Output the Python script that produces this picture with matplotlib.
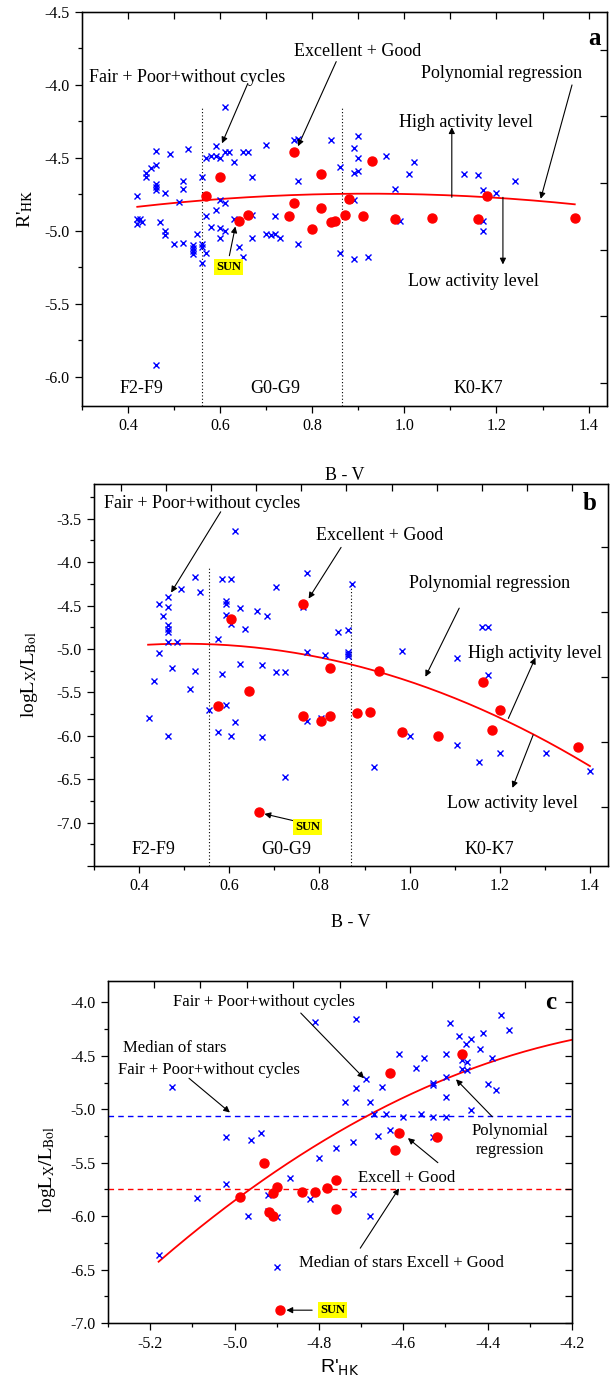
import numpy as np
import matplotlib.pyplot as plt
from matplotlib.ticker import MultipleLocator, FuncFormatter

plt.rcParams['font.family'] = ['Liberation Serif', 'DejaVu Serif']
plt.rcParams['mathtext.fontset'] = 'stix'
plt.rcParams['axes.unicode_minus'] = False

# ---- panel a: B-V vs R'HK ----
bv_a_fair = [0.61, 0.46, 0.49, 0.53, 0.42, 0.44, 0.44, 0.45, 0.46, 0.46, 0.46, 0.46,
             0.48, 0.52, 0.52, 0.51, 0.42, 0.425, 0.47, 0.56, 0.57, 0.58, 0.59, 0.60,
             0.59, 0.61, 0.62, 0.63, 0.65, 0.66, 0.70, 0.67, 0.60, 0.61, 0.59, 0.57,
             0.63, 0.67, 0.72, 0.76, 0.77, 0.77, 0.84, 0.86, 0.89, 0.90, 0.90, 0.89,
             0.90, 0.89, 0.96, 0.98, 1.01, 1.02, 1.13, 1.16, 1.17, 1.20, 1.24, 0.99,
             1.17, 0.42, 0.43, 0.48, 0.48, 0.50, 0.52, 0.54, 0.54, 0.54, 0.54, 0.55,
             0.56, 0.56, 0.56, 0.57, 0.58, 0.60, 0.60, 0.61, 0.64, 0.65, 0.67, 0.70,
             0.71, 0.72, 0.73, 0.77, 0.86, 0.89, 0.92, 1.17, 0.46]
rhk_a_fair = [-4.15, -4.45, -4.47, -4.44, -4.76, -4.60, -4.63, -4.57, -4.55, -4.68, -4.70, -4.72,
              -4.74, -4.66, -4.71, -4.80, -4.92, -4.92, -4.94, -4.63, -4.50, -4.49, -4.49, -4.50,
              -4.42, -4.46, -4.46, -4.53, -4.46, -4.46, -4.41, -4.63, -4.79, -4.81, -4.86, -4.90,
              -4.92, -4.89, -4.90, -4.38, -4.37, -4.66, -4.38, -4.56, -4.43, -4.35, -4.50, -4.60,
              -4.59, -4.79, -4.49, -4.71, -4.61, -4.53, -4.61, -4.62, -4.72, -4.74, -4.66, -4.93,
              -4.93, -4.95, -4.94, -5.00, -5.03, -5.09, -5.08, -5.10, -5.12, -5.14, -5.16, -5.02,
              -5.09, -5.11, -5.22, -5.15, -4.97, -4.98, -5.05, -5.00, -5.11, -5.18, -5.05, -5.02,
              -5.03, -5.02, -5.05, -5.09, -5.15, -5.19, -5.18, -5.00, -5.92]
bv_a_good = [0.60, 0.57, 0.76, 0.82, 0.93, 0.76, 0.82, 0.88, 1.18, 0.64, 0.66,
             0.75, 0.87, 0.91, 0.84, 0.85, 0.80, 0.98, 1.06, 1.16, 1.37]
rhk_a_good = [-4.63, -4.76, -4.46, -4.61, -4.52, -4.81, -4.84, -4.78, -4.76, -4.93, -4.89,
              -4.90, -4.89, -4.90, -4.94, -4.935, -4.99, -4.92, -4.91, -4.92, -4.91]
# quadratic regression: y = c2*(x-x0)^2 + c1*(x-x0) + c0
fit_a_center = 0.92
fit_a_coef = [-0.36, 0.0, -4.745]
fit_a_span = (0.42, 1.37)
edges_a = [0.56, 0.865]
edges_a_top = [-4.15, -4.16]
ytick_a = [-6.0, -5.5, -5.0, -4.5, -4.0, -3.5]
ytick_a_labels = ['-6.0', '-5.5', '-5.0', '-4.5', '-4.0', '-4.5']

# ---- panel b: B-V vs log Lx/Lbol ----
bv_b_fair = [0.613, 0.444, 0.464, 0.464, 0.453, 0.464, 0.464, 0.464, 0.464, 0.485, 0.444,
             0.493, 0.523, 0.534, 0.583, 0.603, 0.593, 0.593, 0.593, 0.603, 0.624, 0.634,
             0.662, 0.683, 0.703, 0.773, 0.763, 0.575, 0.842, 0.863, 0.873, 0.773, 0.812,
             0.863, 0.863, 0.863, 0.983, 1.104, 1.161, 1.174, 0.474, 0.523, 0.434, 0.513,
             0.583, 0.624, 0.673, 0.703, 0.724, 0.554, 0.593, 0.423, 0.464, 0.575, 0.603,
             0.613, 0.673, 0.773, 0.804, 0.724, 0.922, 1.000, 1.104, 1.153, 1.200, 1.302,
             1.400, 1.174]
lx_b_fair = [-3.64, -4.48, -4.40, -4.52, -4.62, -4.72, -4.77, -4.80, -4.92, -4.92, -5.05,
             -4.31, -4.17, -4.34, -4.19, -4.19, -4.45, -4.48, -4.61, -4.71, -4.53, -4.77,
             -4.56, -4.62, -4.29, -4.12, -4.52, -4.89, -4.81, -4.78, -4.25, -5.04, -5.07,
             -5.04, -5.06, -5.08, -5.02, -5.10, -4.75, -4.75, -5.22, -5.25, -5.37, -5.46,
             -5.29, -5.17, -5.19, -5.26, -5.26, -5.70, -5.64, -5.80, -6.00, -5.96, -6.00,
             -5.84, -6.01, -5.83, -5.79, -6.47, -6.36, -6.00, -6.11, -6.30, -6.20, -6.20,
             -6.41, -5.30]
bv_b_good = [0.603, 0.763, 0.824, 0.932, 0.644, 0.575, 0.763, 0.804, 0.824, 0.883,
             0.913, 0.983, 1.063, 1.163, 1.200, 1.183, 1.374, 0.665]
lx_b_good = [-4.65, -4.48, -5.22, -5.25, -5.49, -5.66, -5.77, -5.83, -5.77, -5.74,
             -5.73, -5.96, -6.00, -5.38, -5.70, -5.93, -6.13, -6.88]
fit_b_center = 0.50
fit_b_coef = [-1.74, 0.0, -4.94]
fit_b_span = (0.42, 1.40)
edges_b = [0.556, 0.871]
edges_b_top = [-4.07, -4.24]

# ---- panel c: R'HK vs log Lx/Lbol ----
rhk_c_fair = [-5.148, -4.81, -4.711, -4.689, -4.711, -4.65, -4.739, -4.68, -4.609, -4.57,
              -4.551, -4.498, -4.529, -4.529, -4.498, -4.498, -4.49, -4.468, -4.451, -4.44,
              -4.46, -4.45, -4.46, -4.45, -4.418, -4.41, -4.369, -4.35, -4.39, -4.40,
              -4.38, -4.44, -4.67, -4.64, -4.60, -4.559, -4.529, -4.498, -5.02, -4.96,
              -4.938, -4.631, -4.66, -4.529, -4.72, -4.76, -4.80, -4.868, -5.02, -5.089,
              -4.92, -4.82, -4.72, -4.92, -4.968, -4.90, -4.68, -5.18, -4.90]
lx_c_fair = [-4.79, -4.18, -4.16, -4.72, -4.80, -4.79, -4.93, -4.93, -4.48, -4.61,
             -4.52, -4.48, -4.75, -4.77, -4.70, -4.89, -4.19, -4.31, -4.39, -4.34,
             -4.54, -4.56, -4.62, -4.63, -4.44, -4.29, -4.12, -4.26, -4.52, -4.76,
             -4.82, -5.01, -5.04, -5.04, -5.07, -5.04, -5.07, -5.07, -5.26, -5.29,
             -5.22, -5.19, -5.25, -5.26, -5.31, -5.36, -5.46, -5.64, -5.70, -5.83,
             -5.80, -5.84, -5.79, -5.95, -6.00, -6.01, -6.00, -6.36, -6.48]
rhk_c_good = [-4.631, -4.46, -4.609, -4.52, -4.62, -4.93, -4.987, -4.90, -4.91, -4.84,
              -4.81, -4.78, -4.76, -4.76, -4.918, -4.91, -4.893]
lx_c_good = [-4.66, -4.48, -5.22, -5.26, -5.38, -5.50, -5.82, -5.73, -5.78, -5.77,
             -5.77, -5.74, -5.66, -5.93, -5.96, -6.00, -6.88]
fit_c_center = -4.67
fit_c_coef = [-1.318, 2.066, -5.03]
fit_c_span = (-5.18, -4.2)
median_fair_c = -5.06
median_good_c = -5.75

BLUE = '#0000ff'
RED = '#ff0000'
ANN = 13
ARROW = dict(arrowstyle='-|>', color='k', lw=0.8, mutation_scale=9, shrinkA=0, shrinkB=0)
one_decimal = FuncFormatter(lambda v, pos: '%.1f' % v)


def style_axes(ax, xlim, ylim, xmaj, xmin, ymaj, ymin):
    ax.set_xlim(xlim)
    ax.set_ylim(ylim)
    ax.xaxis.set_major_locator(MultipleLocator(xmaj))
    ax.xaxis.set_minor_locator(MultipleLocator(xmin))
    ax.yaxis.set_major_locator(MultipleLocator(ymaj))
    ax.yaxis.set_minor_locator(MultipleLocator(ymin))
    ax.xaxis.set_major_formatter(one_decimal)
    ax.yaxis.set_major_formatter(one_decimal)
    ax.tick_params(which='both', direction='out', top=False, right=False,
                   labelsize=11.5, width=0.9)
    ax.tick_params(which='major', length=5, pad=4)
    ax.tick_params(which='minor', length=3)
    for s in ax.spines.values():
        s.set_linewidth(1.0)


def frame_ticks(ax, top, right):
    # the top and right frame carry their own unlabelled tick rows
    tx = ax.twiny()
    tx.set_xlim(0, 1)
    tx.set_xticks(top)
    tx.tick_params(direction='in', length=5, width=0.9, labeltop=False)
    ty = ax.twinx()
    ty.set_ylim(0, 1)
    ty.set_yticks(right)
    ty.tick_params(direction='in', length=5, width=0.9, labelright=False)


def draw_points(ax, xf, yf, xg, yg):
    ax.plot(xf, yf, 'x', color=BLUE, ms=5, mew=1.0, zorder=3)
    ax.plot(xg, yg, 'o', color=RED, ms=6.5, mec=RED, zorder=4)


def draw_fit(ax, center, coef, span):
    xs = np.linspace(span[0], span[1], 200)
    ax.plot(xs, np.polyval(coef, xs - center), color=RED, lw=1.3, zorder=2)


def sun_label(ax, x, y):
    ax.text(x, y, 'SUN', fontsize=9, fontweight='bold', ha='center', va='center',
            bbox=dict(boxstyle='square,pad=0.15', fc='#ffff00', ec='none'), zorder=6)


def note(ax, text, xy, head, tail, size=ANN, **kw):
    ax.text(xy[0], xy[1], text, fontsize=size, ha='center', va='center', zorder=6, **kw)
    if head is not None:
        ax.annotate('', xy=head, xytext=tail, arrowprops=ARROW, zorder=6)


W, H = 610, 1382
fig = plt.figure(figsize=(W / 100, H / 100), dpi=100)


def panel(left, top, right, bottom):
    return fig.add_axes([left / W, 1 - bottom / H, (right - left) / W, (bottom - top) / H])


# ---------------- panel a ----------------
ax = panel(82, 12, 607, 406)
style_axes(ax, (0.3, 1.44), (-6.2, -3.5), 0.2, 0.1, 0.5, 0.25)
ax.set_yticks(ytick_a)
ax.set_yticklabels(ytick_a_labels)
draw_fit(ax, fit_a_center, fit_a_coef, fit_a_span)
draw_points(ax, bv_a_fair, rhk_a_fair, bv_a_good, rhk_a_good)
ax.vlines(edges_a, -6.2, edges_a_top, colors='k', linestyles=(0, (1, 2)), lw=0.8)
ax.set_xlabel('B - V', fontsize=13)
ax.xaxis.set_label_coords(0.5, -0.155)
ax.set_ylabel(r"R'$_{\mathrm{HK}}$", fontsize=14)
ax.yaxis.set_label_coords(-0.09, 0.5)
note(ax, 'Fair + Poor+without cycles', (0.529, -3.947), (0.604, -4.40), (0.66, -3.99))
note(ax, 'Excellent + Good', (0.898, -3.774), (0.769, -4.42), (0.852, -3.84))
note(ax, 'Polynomial regression', (1.21, -3.92), (1.296, -4.78), (1.364, -4.0))
note(ax, 'High activity level', (1.133, -4.26), (1.103, -4.29), (1.103, -4.77))
note(ax, 'Low activity level', (1.151, -5.35), (1.214, -5.23), (1.214, -4.77))
ax.annotate('', xy=(0.633, -4.97), xytext=(0.62, -5.17), arrowprops=ARROW, zorder=6)
sun_label(ax, 0.618, -5.25)
for name, xc in zip(['F2-F9', 'G0-G9', 'K0-K7'], [0.43, 0.719, 1.161]):
    ax.text(xc, -6.08, name, fontsize=ANN, ha='center', va='center')
ax.text(1.412, -3.685, 'a', fontsize=18, fontweight='bold', ha='center', va='center')
frame_ticks(ax, (np.arange(0.4, 1.45, 0.1) - 0.3) / 1.14,
            0.904 - 0.169 * np.arange(6))

# ---------------- panel b ----------------
ax = panel(94, 484, 608, 866)
style_axes(ax, (0.3, 1.44), (-7.5, -3.1), 0.2, 0.1, 0.5, 0.25)
ax.set_yticks(np.arange(-7.5, -3.4, 0.5))
ax.set_yticklabels([''] + ['%.1f' % v for v in np.arange(-7.0, -3.4, 0.5)])
draw_fit(ax, fit_b_center, fit_b_coef, fit_b_span)
draw_points(ax, bv_b_fair, lx_b_fair, bv_b_good, lx_b_good)
ax.vlines(edges_b, -7.5, edges_b_top, colors='k', linestyles=(0, (1, 2)), lw=0.8)
ax.set_xlabel('B - V', fontsize=13)
ax.xaxis.set_label_coords(0.5, -0.125)
ax.set_ylabel(r'log$\mathrm{L_X/L_{Bol}}$', fontsize=14)
ax.yaxis.set_label_coords(-0.105, 0.5)
note(ax, 'Fair + Poor+without cycles', (0.539, -3.32), (0.471, -4.35), (0.581, -3.42))
note(ax, 'Excellent + Good', (0.934, -3.69), (0.776, -4.42), (0.848, -3.83))
note(ax, 'Polynomial regression', (1.178, -4.25), (1.035, -5.32), (1.11, -4.53))
note(ax, 'High activity level', (1.277, -5.05), (1.279, -5.10), (1.219, -5.80))
note(ax, 'Low activity level', (1.228, -6.78), (1.228, -6.60), (1.274, -5.99))
ax.annotate('', xy=(0.678, -6.90), xytext=(0.744, -6.98), arrowprops=ARROW, zorder=6)
sun_label(ax, 0.774, -7.05)
for name, xc in zip(['F2-F9', 'G0-G9', 'K0-K7'], [0.431, 0.726, 1.176]):
    ax.text(xc, -7.31, name, fontsize=ANN, ha='center', va='center')
ax.text(1.40, -3.33, 'b', fontsize=18, fontweight='bold', ha='center', va='center')
frame_ticks(ax, (np.arange(0.36, 1.4, 0.1) - 0.3) / 1.14,
            0.835 - 0.17 * np.arange(5))

# ---------------- panel c ----------------
ax = panel(108, 981, 572, 1323)
style_axes(ax, (-5.3, -4.2), (-7.0, -3.8), 0.2, 0.1, 0.5, 0.25)
ax.axhline(median_fair_c, color=BLUE, ls=(0, (4, 3)), lw=1.0, zorder=1)
ax.axhline(median_good_c, color=RED, ls=(0, (4, 3)), lw=1.0, zorder=1)
draw_fit(ax, fit_c_center, fit_c_coef, fit_c_span)
draw_points(ax, rhk_c_fair, lx_c_fair, rhk_c_good, lx_c_good)
ax.set_xlabel(r"R'$_{\mathsf{HK}}$", fontsize=14, family='Liberation Sans',
              math_fontfamily='dejavusans')
ax.xaxis.set_label_coords(0.5, -0.1)
ax.set_ylabel(r'log$\mathrm{L_X/L_{Bol}}$', fontsize=14)
ax.yaxis.set_label_coords(-0.108, 0.45)
note(ax, 'Fair + Poor+without cycles', (-4.931, -4.0), (-4.693, -4.71), (-4.843, -4.10), size=12)
ax.text(-5.265, -4.43, 'Median of stars', fontsize=12, ha='left', va='center')
ax.text(-5.276, -4.63, 'Fair + Poor+without cycles', fontsize=12, ha='left', va='center')
ax.annotate('', xy=(-5.011, -5.03), xytext=(-5.108, -4.71), arrowprops=ARROW, zorder=6)
note(ax, 'Polynomial\nregression', (-4.347, -5.29), (-4.475, -4.72), (-4.389, -5.07),
     size=12, linespacing=1.25)
note(ax, 'Excell + Good', (-4.592, -5.64), (-4.589, -5.27), (-4.518, -5.50), size=12)
note(ax, 'Median of stars Excell + Good', (-4.604, -6.44), (-4.61, -5.74), (-4.702, -6.30), size=12)
ax.annotate('', xy=(-4.877, -6.88), xytext=(-4.816, -6.88), arrowprops=ARROW, zorder=6)
sun_label(ax, -4.767, -6.88)
ax.text(-4.251, -4.0, 'c', fontsize=18, fontweight='bold', ha='center', va='center')
frame_ticks(ax, 0.099 + 0.1 * np.arange(9), (np.arange(-7.0, -3.8, 0.25) + 7.0) / 3.2)

fig.savefig('out.png', dpi=100)
